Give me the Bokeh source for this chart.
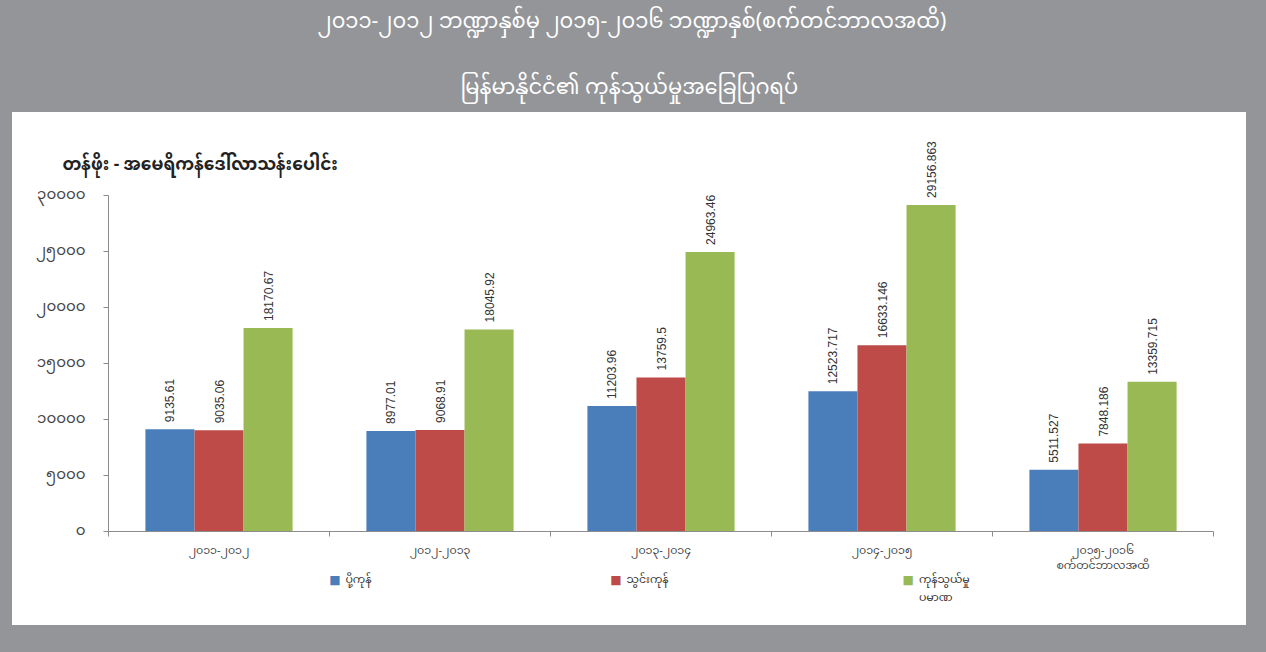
import math
from bokeh.plotting import figure
from bokeh.models import (Range1d, FixedTicker, ColumnDataSource, Title)
from bokeh.core.properties import value
from bokeh.embed import file_html
from bokeh.resources import INLINE

# ---- data ----
categories = ["၂၀၁၁-၂၀၁၂", "၂၀၁၂-၂၀၁၃", "၂၀၁၃-၂၀၁၄", "၂၀၁၄-၂၀၁၅",
              "၂၀၁၅-၂၀၁၆\nစက်တင်ဘာလအထိ"]
series_names = ["ပို့ကုန်", "သွင်းကုန်", "ကုန်သွယ်မှု\nပမာဏ"]
exports = [9135.61, 8977.01, 11203.96, 12523.717, 5511.527]
imports = [9035.06, 9068.91, 13759.5, 16633.146, 7848.186]
trade = [18170.67, 18045.92, 24963.46, 29156.863, 13359.715]
value_labels = [
    ["9135.61", "8977.01", "11203.96", "12523.717", "5511.527"],
    ["9035.06", "9068.91", "13759.5", "16633.146", "7848.186"],
    ["18170.67", "18045.92", "24963.46", "29156.863", "13359.715"],
]
y_ticks = [0, 5000, 10000, 15000, 20000, 25000, 30000]
y_tick_labels = ["၀", "၅၀၀၀", "၁၀၀၀၀", "၁၅၀၀၀", "၂၀၀၀၀", "၂၅၀၀၀", "၃၀၀၀၀"]
title_line1 = "၂၀၁၁-၂၀၁၂ ဘဏ္ဍာနှစ်မှ ၂၀၁၅-၂၀၁၆ ဘဏ္ဍာနှစ်(စက်တင်ဘာလအထိ)"
title_line2 = "မြန်မာနိုင်ငံ၏ ကုန်သွယ်မှုအခြေပြဂရပ်"
y_title = "တန်ဖိုး - အမေရိကန်ဒေါ်လာသန်းပေါင်း"

colors = ["#4a7ebb", "#be4b48", "#98b954"]
MY_FONT = "Noto Sans Myanmar, Noto Sans, DejaVu Sans"
NUM_FONT = "Liberation Sans Narrow, Liberation Sans, Arial Narrow"
GRAY = "#939598"

# legend placement (layout only, in axis units below the baseline)
legend_swatch_x = [0.525, 1.796, 3.118]
legend_text_x = [0.572, 1.844, 3.167]
legend_swatch_y = -4371
legend_text_y = [-4371, -4371, -5100]

W, H = 1266, 652
p = figure(width=W, height=H, output_backend="svg", toolbar_location=None,
           x_range=Range1d(-0.5, len(categories) - 0.5), y_range=Range1d(0, 30000),
           min_border_left=108, min_border_right=53, min_border_top=181,
           min_border_bottom=121)
# grey page with a white panel, painted behind a transparent canvas border
p.styles = {"background": "linear-gradient(#ffffff, #ffffff) 12px 112px / 1234px 513px no-repeat, "
                          + GRAY}
p.border_fill_color = None
p.background_fill_color = "white"
p.outline_line_color = None
p.xgrid.visible = False
p.ygrid.visible = False

# titles (closest to the frame first)
p.add_layout(Title(text=y_title, align="left", offset=-46, standoff=22,
                   text_font=MY_FONT, text_font_size="17px", text_font_style="bold",
                   text_color="#222222"), "above")
p.add_layout(Title(text=title_line2, align="left", offset=352, standoff=43,
                   text_font=MY_FONT, text_font_size="21px", text_font_style="normal",
                   text_color="white"), "above")
p.add_layout(Title(text=title_line1, align="left", offset=209, standoff=-6,
                   text_font=MY_FONT, text_font_size="21px", text_font_style="normal",
                   text_color="white"), "above")

bw = 0.222
offsets = [-bw, 0.0, bw]
data_series = [exports, imports, trade]
for i, vals in enumerate(data_series):
    xs = [k + offsets[i] for k in range(len(categories))]
    src = ColumnDataSource(dict(x=xs, top=vals, lbl=value_labels[i]))
    p.vbar(x="x", top="top", width=bw, bottom=0, source=src,
           fill_color=colors[i], line_color=None)
    p.text(x="x", y="top", text="lbl", source=src, angle=math.pi / 2,
           text_align="left", text_baseline="middle", y_offset=-7,
           text_font=value(NUM_FONT), text_font_size="12px", text_color="#333333",
           level="overlay")

# legend (swatches + names), drawn below the axis
p.text(x=legend_swatch_x, y=[legend_swatch_y] * 3, text=["■"] * 3, text_align="center",
       text_baseline="middle", text_font=value("DejaVu Sans"), text_font_size="12px",
       text_color=colors, level="overlay")
p.text(x=legend_text_x, y=legend_text_y, text=series_names, text_align="left",
       text_baseline="middle", text_font=value(MY_FONT), text_font_size="11px",
       text_color="#333333", text_line_height=0.75, level="overlay")

# axes
p.yaxis.ticker = FixedTicker(ticks=y_ticks)
p.yaxis.major_label_overrides = {t: l for t, l in zip(y_ticks, y_tick_labels)}
p.yaxis.minor_tick_line_color = None
p.yaxis.major_tick_in = 0
p.yaxis.major_tick_out = 5
p.yaxis.axis_line_color = "#8c8c8c"
p.yaxis.major_tick_line_color = "#8c8c8c"
p.yaxis.major_label_text_font = MY_FONT
p.yaxis.major_label_text_font_size = "15px"
p.yaxis.major_label_text_color = "#444444"
p.yaxis.major_label_standoff = 18

p.xaxis.ticker = FixedTicker(ticks=list(range(len(categories))),
                             minor_ticks=[k - 0.5 for k in range(len(categories) + 1)])
p.xaxis.major_label_overrides = {k: c for k, c in enumerate(categories)}
p.xaxis.major_tick_in = 0
p.xaxis.major_tick_out = 0
p.xaxis.minor_tick_in = 0
p.xaxis.minor_tick_out = 5
p.xaxis.axis_line_color = "#8c8c8c"
p.xaxis.minor_tick_line_color = "#8c8c8c"
p.xaxis.major_label_text_font = MY_FONT
p.xaxis.major_label_text_font_size = "11px"
p.xaxis.major_label_text_color = "#444444"
p.xaxis.major_label_text_line_height = 0.65
p.xaxis.major_label_standoff = 2

open("out.html", "w").write(file_html(p, INLINE))
